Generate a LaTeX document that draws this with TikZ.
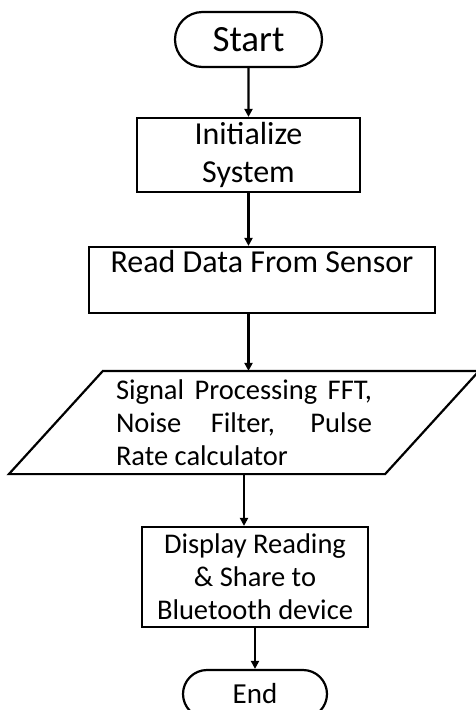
\documentclass[tikz,border=0pt]{standalone}
\usepackage{fontspec}
\setmainfont{Carlito}
\usetikzlibrary{arrows.meta,shapes.misc}
\begin{document}
\begin{tikzpicture}[x=1pt,y=-1pt,
  line width=2.2pt,
  term/.style={draw, rounded rectangle, inner sep=0pt},
  procbox/.style={draw, rectangle, inner sep=0pt, align=center},
  arr/.style={-{Triangle[length=8pt,width=8pt]}, line width=2.2pt}]
\useasboundingbox (0,0) rectangle (475,710);
\node[term, minimum width=147pt, minimum height=55pt, font=\fontsize{37}{44}\selectfont] (start) at (248.5,39.5) {Start};
\node[procbox, minimum width=223pt, minimum height=74pt, font=\fontsize{32}{38}\selectfont] (init) at (248.5,155) {Initialize\\System};
\node[procbox, minimum width=346pt, minimum height=66pt, font=\fontsize{32}{38}\selectfont] (read) at (262,280) {Read Data From Sensor\\\mbox{}};
\node[inner sep=0pt, minimum width=374pt, minimum height=101pt, align=left, font=\fontsize{28.5}{33}\selectfont] (dsp) at (244,422.5) {\makebox[256pt][s]{Signal Processing FFT,}\\\makebox[256pt][s]{Noise Filter, Pulse}\\Rate calculator};
\draw ([xshift=-47pt]dsp.south west) -- ([xshift=47pt]dsp.north west) -- ([xshift=47pt]dsp.north east) -- ([xshift=-47pt]dsp.south east) -- cycle;
\node[procbox, minimum width=226pt, minimum height=100pt, font=\fontsize{28.5}{33}\selectfont] (disp) at (255,577) {Display Reading\\\& Share to\\Bluetooth device};
\node[term, minimum width=144pt, minimum height=48pt, font=\fontsize{29}{35}\selectfont] (end) at (255,694) {End};
\draw[arr] (start) -- (init);
\draw[arr] (init.south) -- (init.south |- read.north);
\draw[arr] (init.south |- read.south) -- (init.south |- dsp.north);
\draw[arr] (dsp.south) -- (dsp.south |- disp.north);
\draw[arr] (disp) -- (end);
\end{tikzpicture}
\end{document}
